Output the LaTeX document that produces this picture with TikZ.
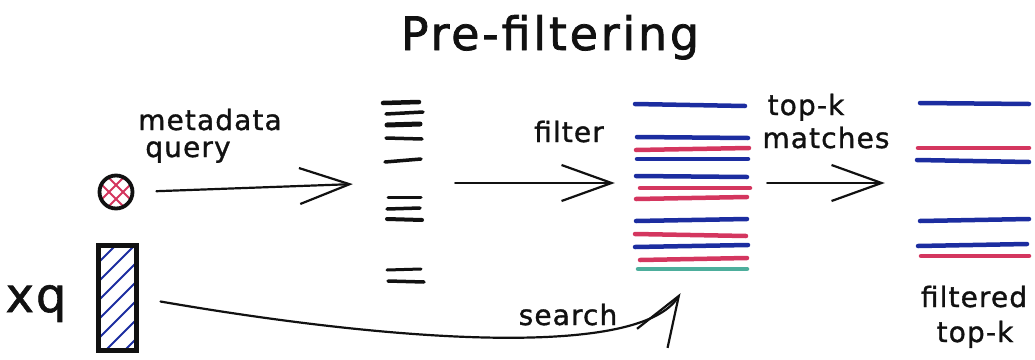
\documentclass[tikz,border=0pt]{standalone}
\usepackage{fontspec}
\setmainfont{DejaVu Sans}[FakeBold=1.2, LetterSpace=4]
\newfontfamily\titlefont{DejaVu Sans}[FakeBold=1.6, LetterSpace=6]
\usetikzlibrary{arrows.meta,calc}

\definecolor{inkblue}{HTML}{1C2DA0}
\definecolor{inkred}{HTML}{D4365F}
\definecolor{inkteal}{HTML}{4DAE9C}
\definecolor{ink}{HTML}{111111}

\begin{document}
\begin{tikzpicture}[x=1pt,y=-1pt,
  lbl/.style={font=\fontsize{28}{34}\selectfont, text=ink, inner sep=0pt, anchor=base},
  arr/.style={draw=ink, line width=2.2pt, line cap=round,
    -{Straight Barb[length=50pt,width=36pt,line width=2.2pt]}},
  stripe/.style={line width=4.5pt, line cap=round},
  tally/.style={draw=ink, line cap=round},
  hatchblue/.style={draw=inkblue, line width=1.8pt},
  hatchred/.style={draw=inkred, line width=1.8pt},
  zone/.style={draw=none, inner sep=0pt}]

\useasboundingbox (0,0) rectangle (1035,359);

% title
\node[inner sep=0pt, anchor=base, text=ink, font=\titlefont\fontsize{46}{52}\selectfont]
  (title) at (550,50) {Pre-filtering};

% metadata query: cross-hatched circle
\begin{scope}
  \clip (116,192) circle (18);
  \foreach \d in {-7,7} {
    \draw[hatchred] (116+\d-24,168) -- (116+\d+24,216);
    \draw[hatchred] (116+\d-24,216) -- (116+\d+24,168);
  }
\end{scope}
\node[circle, draw=ink, line width=3.8pt, minimum size=33pt, inner sep=0pt] (mq) at (116,192) {};

% query vector xq: hatched bar
\begin{scope}
  \clip (98,245) rectangle (136,350);
  \foreach \k in {0,...,7}
    \draw[hatchblue] (96,265+19*\k) -- ++(62,-62);
\end{scope}
\node[rectangle, draw=ink, line width=5pt, minimum width=38pt, minimum height=105pt, inner sep=0pt]
  (xqv) at (117,297.5) {};

% labels
\node[lbl] (lmeta)  at (210,130) {metadata};
\node[lbl] (lquery) at (188,157) {query};
\node[lbl, font=\fontsize{48}{56}\selectfont] (lxq) at (36,312) {xq};
\node[lbl] (lfilter) at (569,142) {filter};
\node[lbl] (ltop)   at (806,115) {top-k};
\node[lbl] (lmatch) at (826,148) {matches};
\node[lbl] (lsearch) at (568,325) {search};
\node[lbl] (lfilt)  at (974,307) {filtered};
\node[lbl] (ltopk)  at (975,342) {top-k};

% regions holding the three stacks
\node[zone, minimum width=41pt,  minimum height=184pt] (cand) at (403.5,192) {};
\node[zone, minimum width=115pt, minimum height=172pt] (res)  at (692.5,186) {};
\node[zone, minimum width=113pt, minimum height=160pt] (topk) at (973.5,180) {};

% metadata matches: short black strokes
\foreach \xa/\ya/\xb/\yb/\w in {
  383/103/419/102/4.5, 386/114/423/112/3.5, 387/125/420/124/5,
  386/138/422/139/3.5, 385/162/421/159/3.5, 388/197/421/197/3,
  387/209/420/208/3.5, 387/219/422/220/4, 387/270/421/269/3,
  388/281/424/282/3.5}
  \draw[tally, line width=\w pt] (\xa,\ya) -- (\xb,\yb);

% filtered candidates
\foreach \c/\xa/\ya/\xb/\yb in {
  inkblue/635/104/745/106, inkblue/637/137/748/138, inkred/636/150/749/148,
  inkblue/637/159/748/159, inkblue/636/176/747/177, inkred/640/188/750/188,
  inkred/636/199/747/197,  inkblue/636/221/747/219, inkred/635/234/746/236,
  inkblue/635/247/748/245, inkred/640/260/747/258,  inkteal/638/269/747/269}
  \draw[stripe, draw=\c] (\xa,\ya) -- (\xb,\yb);

% final top-k
\foreach \c/\xa/\ya/\xb/\yb in {
  inkblue/920/103/1029/104, inkred/918/148/1029/148, inkblue/917/160/1029/162,
  inkblue/920/221/1029/219, inkblue/918/246/1027/244, inkred/921/256/1029/256}
  \draw[stripe, draw=\c] (\xa,\ya) -- (\xb,\yb);

% connectors
\coordinate (row) at (0,183);
\draw[arr, shorten <=22pt, shorten >=30pt] (mq.east) -- (cand.west |- row);
\draw[arr, shorten <=31pt, shorten >=20pt] (cand.east |- row) -- (res.west |- row);
\draw[arr, shorten <=17pt, shorten >=32pt] (res.east |- row) -- (topk.west |- row);
\draw[arr] ([xshift=22pt,yshift=-4pt]xqv.east)
  .. controls (400,343) and (640,358) .. ([xshift=-12pt,yshift=-21pt]res.south);

\end{tikzpicture}
\end{document}
